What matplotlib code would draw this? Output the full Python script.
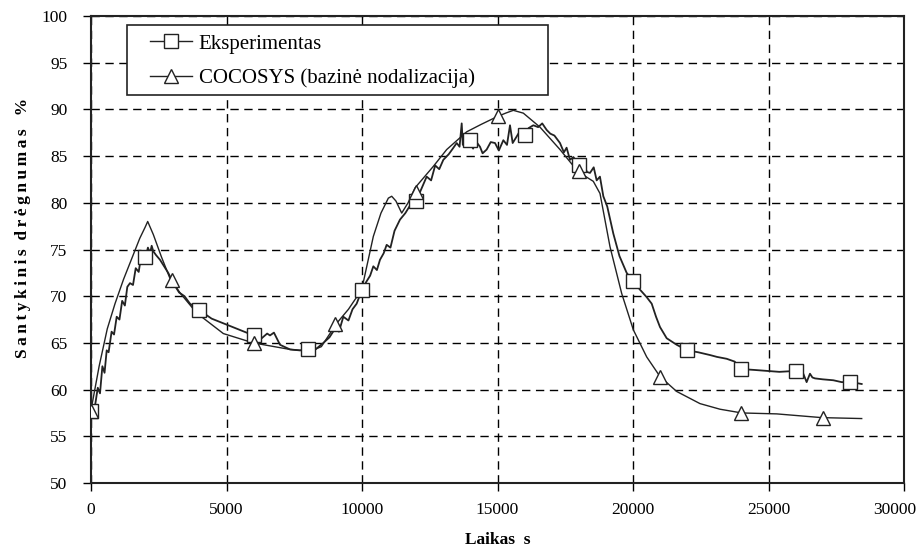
import matplotlib
matplotlib.use("Agg")
import matplotlib.pyplot as plt
import matplotlib.transforms as mtransforms
from matplotlib.lines import Line2D
from matplotlib.patches import Rectangle

plt.rcParams["font.family"] = ["Liberation Serif", "DejaVu Serif"]

exp_t = [0, 150, 250, 332, 420, 500, 579, 650, 760, 850, 948, 1050, 1150, 1250,
         1340, 1439, 1550, 1650, 1760, 1850, 1930, 2000, 2100, 2180, 2239, 2300,
         2400, 2546, 2700, 2850, 3037, 3250, 3450, 3653, 4000, 4450, 4883, 5498,
         6000, 6300, 6500, 6605, 6750, 6974, 7343, 7700, 8000, 8200, 8573, 8800,
         9000, 9150, 9311, 9500, 9650, 9803, 10000, 10150, 10300, 10418, 10550,
         10664, 10800, 10910, 11050, 11200, 11402, 11600, 11750, 12000, 12150,
         12386, 12550, 12700, 12850, 13001, 13200, 13350, 13494, 13600, 13679,
         13720, 13800, 13923, 14100, 14200, 14354, 14450, 14600, 14750, 14908,
         15050, 15215, 15350, 15461, 15560, 15708, 15850, 16000, 16150, 16322,
         16500, 16650, 16814, 16950, 17100, 17306, 17450, 17550, 17675, 17800,
         18000, 18150, 18300, 18413, 18550, 18659, 18780, 18905, 19050, 19274,
         19500, 19766, 20000, 20258, 20505, 20690, 20850, 20996, 21243, 21612,
         22000, 22400, 22841, 23100, 23456, 23750, 24000, 24500, 24933, 25400,
         26000, 26284, 26407, 26530, 26620, 26715, 27000, 27392, 27700, 28000,
         28250, 28439]
exp_rh = [57.7, 58.3, 60.2, 59.6, 62.5, 61.8, 64.2, 64.0, 66.2, 65.9, 67.8,
          67.5, 69.5, 69.0, 71.0, 71.4, 71.2, 73.0, 72.6, 74.3, 74.2, 74.0,
          75.2, 74.6, 75.4, 74.8, 74.4, 73.9, 73.2, 72.5, 71.4, 70.4, 70.0,
          69.2, 68.5, 67.6, 67.1, 66.4, 65.8, 65.5, 66.0, 65.8, 66.1, 64.8,
          64.3, 64.2, 64.3, 64.1, 65.0, 65.6, 66.5, 66.2, 67.8, 67.4, 68.6,
          69.2, 70.7, 71.5, 72.2, 73.2, 72.8, 73.9, 74.6, 75.5, 75.2, 77.0,
          78.2, 78.9, 79.6, 80.2, 81.2, 82.8, 82.4, 84.0, 83.6, 84.6, 85.2,
          85.8, 86.4, 86.0, 88.5, 86.2, 87.2, 86.7, 85.8, 86.6, 86.0, 85.3,
          85.7, 86.5, 86.4, 85.6, 86.7, 86.2, 88.3, 86.4, 87.1, 87.8, 87.3,
          88.0, 88.3, 88.1, 88.5, 87.8, 87.4, 87.2, 86.4, 85.4, 85.9, 84.6,
          84.9, 84.1, 84.4, 83.3, 83.2, 83.8, 82.4, 82.8, 80.7, 79.6, 76.7,
          74.3, 72.5, 71.6, 70.7, 69.9, 69.2, 67.8, 66.7, 65.5, 64.8, 64.2,
          64.0, 63.7, 63.5, 63.3, 63.0, 62.2, 62.1, 62.0, 61.9, 62.0, 61.7,
          60.8, 61.7, 61.3, 61.2, 61.1, 61.0, 60.8, 60.8, 60.7, 60.6]

# COCOSYS (baseline nodalization) trace
coc_t = [0, 300, 600, 886, 1200, 1500, 1800, 2000, 2092, 2300, 2600, 2915,
         3300, 3900, 4883, 5990, 7343, 8081, 8500, 9066, 9500, 9989, 10418,
         10700, 10972, 11096, 11250, 11465, 11700, 11956, 12632, 13125, 13863,
         14400, 14970, 15300, 15584, 15953, 16568, 17306, 17982, 18535, 18782,
         19151, 19582, 20012, 20505, 20996, 21612, 22472, 23210, 24011, 25302,
         26963, 28439]
coc_rh = [57.8, 62.5, 66.5, 69.2, 71.8, 74.0, 76.2, 77.4, 78.0, 76.6, 74.2,
          71.9, 70.3, 68.2, 66.0, 65.0, 64.3, 64.1, 64.6, 67.1, 68.6, 70.7,
          76.4, 78.9, 80.5, 80.7, 80.2, 78.9, 80.0, 81.6, 83.9, 85.7, 87.6,
          88.4, 89.2, 89.6, 89.9, 89.6, 88.1, 85.7, 83.3, 82.3, 81.0, 75.3,
          70.3, 66.4, 63.5, 61.4, 59.8, 58.5, 57.9, 57.5, 57.4, 57.0, 56.9]

# marker positions
exp_mark_t = [0, 2000, 4000, 6000, 8000, 10000, 12000, 14000, 16000, 18000,
              20000, 22000, 24000, 26000, 28000]
exp_mark_rh = [57.7, 74.2, 68.5, 65.8, 64.3, 70.7, 80.2, 86.7, 87.3, 84.1,
               71.6, 64.2, 62.2, 62.0, 60.8]
coc_mark_t = [0, 3000, 6000, 9000, 12000, 15000, 18000, 21000, 24000, 27000]
coc_mark_rh = [57.7, 71.7, 65.0, 67.0, 81.2, 89.3, 83.4, 61.4, 57.5, 57.0]

labels = ["Eksperimentas", "COCOSYS (bazinė nodalizacija)"]

W, H = 918, 551
fig = plt.figure(figsize=(W / 100, H / 100), dpi=100)
ax = fig.add_axes([91 / W, 1 - 483 / H, 813 / W, 467 / H])

ax.plot(exp_t, exp_rh, color="#222222", lw=1.3, zorder=3)
ax.plot(coc_t, coc_rh, color="#222222", lw=1.0, zorder=3)
mk = dict(color="#222222", ls="none", mfc="white", mec="#222222", mew=1.0, ms=10, zorder=4)
ax.plot(exp_mark_t, exp_mark_rh, marker="s", **mk)
ax.plot(coc_mark_t, coc_mark_rh, marker="^", **mk)

ax.set_xlim(0, 30000)
ax.set_ylim(50, 100)
ax.set_xticks(range(0, 30001, 5000))
ax.set_yticks(range(50, 101, 5))
ax.grid(True, color="black", ls=(0, (6, 4)), lw=1.0)
ax.set_axisbelow(True)
for s in ax.spines.values():
    s.set_linewidth(1.5)
    s.set_color("#222222")
ax.tick_params(direction="out", length=6, width=1, labelsize=12.5)
ax.tick_params(axis="y", pad=11)
ax.tick_params(axis="x", pad=8)
# keep the last x label inside the picture
last = ax.get_xticklabels()[-1]
last.set_transform(last.get_transform() +
                   mtransforms.ScaledTranslation(-9 / 100, 0, fig.dpi_scale_trans))

ax.set_xlabel("Laikas  s", fontsize=12.5, fontweight="bold", labelpad=10)
ax.set_ylabel("S\u2009a\u2009n\u2009t\u2009y\u2009k\u2009i\u2009n\u2009i\u2009s  "
              "d\u2009r\u2009ė\u2009g\u2009n\u2009u\u2009m\u2009a\u2009s   %",
              fontsize=12.5, fontweight="bold")
ax.yaxis.set_label_coords(-0.074, 0.546)

# legend: frame drawn as a rectangle, entries placed inside it
ax.add_patch(Rectangle(((127 - 91) / 813, (483 - 95) / 467), 421 / 813, 70 / 467,
                       transform=ax.transAxes, facecolor="white",
                       edgecolor="#222222", lw=1.2, zorder=5))
handles = [
    Line2D([], [], color="#222222", lw=1.0, marker="s", ms=10, mfc="white", mec="#222222"),
    Line2D([], [], color="#222222", lw=1.0, marker="^", ms=10, mfc="white", mec="#222222"),
]
leg = ax.legend(handles, labels, loc="upper left",
                bbox_to_anchor=((150 - 91) / 813, (483 - 34) / 467),
                fontsize=15, frameon=False, borderpad=0, borderaxespad=0,
                handlelength=2.0, labelspacing=0.72, handletextpad=0.34)
leg.set_zorder(6)

fig.savefig("out.png", dpi=100)
